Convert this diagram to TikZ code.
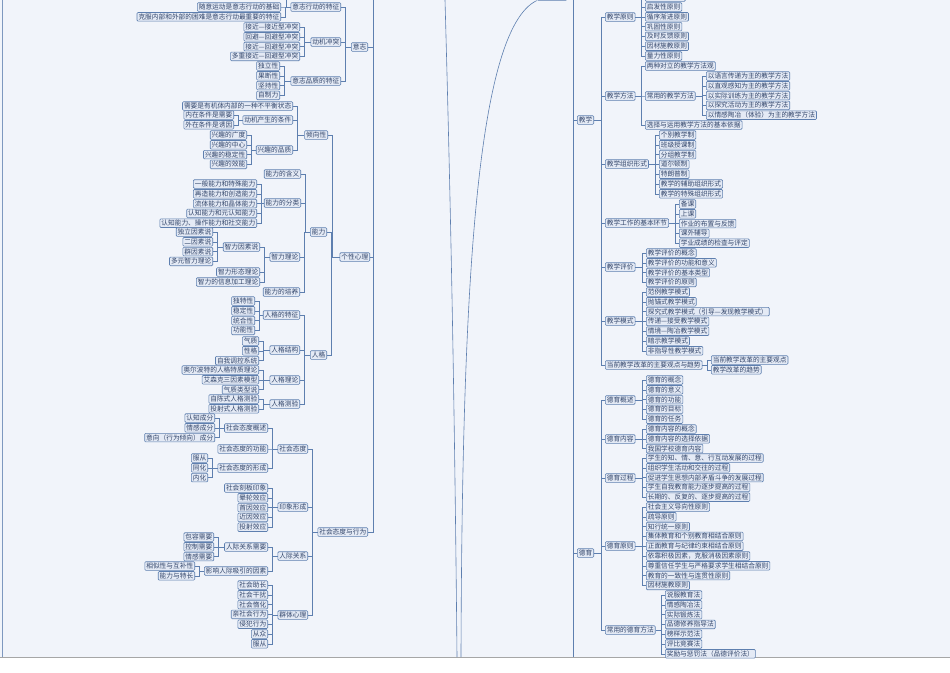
\documentclass[tikz,border=0pt]{standalone}
\usepackage{fontspec}
\setmainfont{Noto Sans CJK SC}
\definecolor{bgc}{HTML}{F1F4FA}
\definecolor{boxc}{HTML}{E4EAF5}
\definecolor{edgec}{HTML}{5E7FAF}
\definecolor{txtc}{HTML}{33466B}
\tikzset{
  leaf/.style={draw=edgec, fill=boxc, rounded corners=1pt, line width=0.6pt,
    inner xsep=1.5pt, inner ysep=0pt, minimum height=8.6pt,
    font=\fontsize{6.7}{7}\selectfont, text=txtc},
  link/.style={draw=edgec, line width=0.6pt},
}
% children to the left of a parent, right aligned at x=#2
\newcommand\lkids[4]{%
  \foreach \t [count=\i] in {#4}{
    \node[leaf, anchor=east] (#1-\i) at ({#2},{#3+(\i-1)*9.8}) {\t};
    \draw[link] (#1-\i.east) -- ++(4,0) |- (#1.west);
  }}
% children to the right of a parent, left aligned at x=#2
\newcommand\rkids[4]{%
  \foreach \t [count=\i] in {#4}{
    \node[leaf, anchor=west] (#1-\i) at ({#2},{#3+(\i-1)*9.8}) {\t};
    \draw[link] (#1-\i.west) -- ++(-4,0) |- (#1.east);
  }}
\begin{document}
\begin{tikzpicture}[x=1pt, y=-1pt]
  \useasboundingbox (0,0) rectangle (950,672);
  \clip (0,0) rectangle (950,672);
  \fill[bgc] (0,0) rectangle (950,672);
  \fill[white] (0,657) rectangle (950,672);
  \draw[gray!70, line width=0.8pt] (0,657) -- (950,657);
  \draw[edgec!80, line width=0.6pt] (2,0) -- (2,657);

  % central curves
  \node[leaf, minimum width=30pt] (top) at (552,-4) {};
  \coordinate (c1a) at (445,0);
  \coordinate (c1b) at (457,657);
  \coordinate (c2b) at (461,657);
  \draw[link] (c1a) .. controls (452,250) and (455,450) .. (c1b);
  \draw[link] (top.south west) .. controls (475,30) and (462,300) .. (c2b);

  % left half
  \coordinate (lroot) at (373,0);
  \node[leaf, anchor=east] (yz) at (368,47) {意志};
  \node[leaf, anchor=east] (gx) at (370,257) {个性心理};
  \node[leaf, anchor=east] (sh) at (368,532) {社会态度与行为};
  \foreach \n in {yz,gx,sh}
    \draw[link] (lroot) |- (\n.east);

  \node[leaf, anchor=east] (yzt) at (341,7) {意志行动的特征};
  \node[leaf, anchor=east] (dc) at (341,42) {动机冲突};
  \node[leaf, anchor=east] (yzp) at (341,81) {意志品质的特征};
  \foreach \n in {yzt,dc,yzp}
    \draw[link] (\n.east) -- ++(4,0) |- (yz.west);
  \node[leaf, anchor=east, minimum width=90pt] (yzt0) at (281,-6) {};
  \draw[link] (yzt0.east) -- ++(5,0) |- (yzt.west);
  \lkids{yzt}{281}{7}{随意运动是意志行动的基础,克服内部和外部的困难是意志行动最重要的特征}
  \lkids{dc}{300}{27}{接近—接近型冲突,回避—回避型冲突,接近—回避型冲突,多重接近—回避型冲突}
  \lkids{yzp}{280}{66}{独立性,果断性,坚持性,自制力}

  \node[leaf, anchor=east] (qx) at (328,135) {倾向性};
  \node[leaf, anchor=east] (nl) at (327,232) {能力};
  \node[leaf, anchor=east] (rg) at (327,355) {人格};
  \foreach \n in {qx,nl,rg}
    \draw[link] (\n.east) -- ++(4,0) |- (gx.west);

  \node[leaf, anchor=east] (xy) at (293,106) {需要是有机体内部的一种不平衡状态};
  \node[leaf, anchor=east] (dj) at (293,120) {动机产生的条件};
  \node[leaf, anchor=east] (xq) at (293,150) {兴趣的品质};
  \foreach \n in {xy,dj,xq}
    \draw[link] (\n.east) -- ++(4,0) |- (qx.west);
  \lkids{dj}{234}{115}{内在条件是需要,外在条件是诱因}
  \lkids{xq}{247}{135}{兴趣的广度,兴趣的中心,兴趣的稳定性,兴趣的效能}

  \node[leaf, anchor=east] (nh) at (301,174) {能力的含义};
  \node[leaf, anchor=east] (nf) at (301,203) {能力的分类};
  \node[leaf, anchor=east] (zl) at (300,257) {智力理论};
  \node[leaf, anchor=east] (np) at (300,292) {能力的培养};
  \foreach \n in {nh,nf,zl,np}
    \draw[link] (\n.east) -- ++(4,0) |- (nl.west);
  \lkids{nf}{257}{184}{一般能力和特殊能力,再造能力和创造能力,流体能力和晶体能力,认知能力和元认知能力,认知能力、操作能力和社交能力}
  \node[leaf, anchor=east] (zy) at (260,247) {智力因素说};
  \node[leaf, anchor=east] (zx) at (260,272) {智力形态理论};
  \node[leaf, anchor=east] (zj) at (260,282) {智力的信息加工理论};
  \foreach \n in {zy,zx,zj}
    \draw[link] (\n.east) -- ++(4,0) |- (zl.west);
  \lkids{zy}{213}{232}{独立因素说,二因素说,群因素说,多元智力理论}

  \node[leaf, anchor=east] (rt) at (300,315) {人格的特征};
  \node[leaf, anchor=east] (rj) at (300,350) {人格结构};
  \node[leaf, anchor=east] (rl) at (300,380) {人格理论};
  \node[leaf, anchor=east] (rc) at (300,404) {人格测验};
  \foreach \n in {rt,rj,rl,rc}
    \draw[link] (\n.east) -- ++(4,0) |- (rg.west);
  \lkids{rt}{255}{301}{独特性,稳定性,统合性,功能性}
  \lkids{rj}{259}{341}{气质,性格,自我调控系统}
  \lkids{rl}{259}{370}{奥尔波特的人格特质理论,艾森克三因素模型,气质类型说}
  \lkids{rc}{259}{399}{自陈式人格测验,投射式人格测验}

  \node[leaf, anchor=east] (st) at (308,449) {社会态度};
  \node[leaf, anchor=east] (yx) at (308,507) {印象形成};
  \node[leaf, anchor=east] (rx) at (308,556) {人际关系};
  \node[leaf, anchor=east] (qt) at (308,615) {群体心理};
  \foreach \n in {st,yx,rx,qt}
    \draw[link] (\n.east) -- ++(4,0) |- (sh.west);
  \node[leaf, anchor=east] (sg) at (268,428) {社会态度概述};
  \node[leaf, anchor=east] (sn) at (268,449) {社会态度的功能};
  \node[leaf, anchor=east] (sx) at (268,468) {社会态度的形成};
  \foreach \n in {sg,sn,sx}
    \draw[link] (\n.east) -- ++(4,0) |- (st.west);
  \lkids{sg}{215}{418}{认知成分,情感成分,意向（行为倾向）成分}
  \lkids{sx}{208}{458}{服从,同化,内化}
  \lkids{yx}{268}{488}{社会刻板印象,晕轮效应,首因效应,近因效应,投射效应}
  \node[leaf, anchor=east] (rxq) at (268,547) {人际关系需要};
  \node[leaf, anchor=east] (rxy) at (268,571) {影响人际吸引的因素};
  \foreach \n in {rxq,rxy}
    \draw[link] (\n.east) -- ++(4,0) |- (rx.west);
  \lkids{rxq}{214}{537}{包容需要,控制需要,情感需要}
  \lkids{rxy}{195}{566}{相似性与互补性,能力与特长}
  \lkids{qt}{268}{585}{社会助长,社会干扰,社会惰化,亲社会行为,侵犯行为,从众,服从}

  % right half
  \coordinate (rroot) at (573,0);
  \draw[link] (rroot) -- (573,657);
  \node[leaf, anchor=west] (jx) at (577,120) {教学};
  \node[leaf, anchor=west] (dy) at (577,553) {德育};
  \foreach \n in {jx,dy}
    \draw[link] (573,0 |- \n.west) -- (\n.west);

  \node[leaf, anchor=west] (jy) at (605,17) {教学原则};
  \node[leaf, anchor=west] (jf) at (605,96) {教学方法};
  \node[leaf, anchor=west] (jz) at (605,164) {教学组织形式};
  \node[leaf, anchor=west] (jh) at (605,223) {教学工作的基本环节};
  \node[leaf, anchor=west] (jp) at (605,267) {教学评价};
  \node[leaf, anchor=west] (jm) at (605,321) {教学模式};
  \node[leaf, anchor=west] (jg) at (605,365) {当前教学改革的主要观点与趋势};
  \foreach \n in {jy,jf,jz,jh,jp,jm,jg}
    \draw[link] (\n.west) -- ++(-4,0) |- (jx.east);
  \node[leaf, anchor=west, minimum width=40pt] (jy0) at (645,-3) {};
  \draw[link] (jy0.west) -- ++(-4,0) |- (jy.east);
  \rkids{jy}{645}{7}{启发性原则,循序渐进原则,巩固性原则,及时反馈原则,因材施教原则,量力性原则}
  \node[leaf, anchor=west] (jf1) at (645,66) {两种对立的教学方法观};
  \node[leaf, anchor=west] (jf2) at (645,96) {常用的教学方法};
  \node[leaf, anchor=west] (jf3) at (645,125) {选择与运用教学方法的基本依据};
  \foreach \n in {jf1,jf2,jf3}
    \draw[link] (\n.west) -- ++(-4,0) |- (jf.east);
  \rkids{jf2}{706}{76}{以语言传递为主的教学方法,以直观感知为主的教学方法,以实际训练为主的教学方法,以探究活动为主的教学方法,以情感陶冶（体验）为主的教学方法}
  \rkids{jz}{659}{135}{个别教学制,班级授课制,分组教学制,道尔顿制,特朗普制,教学的辅助组织形式,教学的特殊组织形式}
  \rkids{jh}{679}{204}{备课,上课,作业的布置与反馈,课外辅导,学业成绩的检查与评定}
  \rkids{jp}{646}{253}{教学评价的概念,教学评价的功能和意义,教学评价的基本类型,教学评价的原则}
  \rkids{jm}{646}{292}{范例教学模式,抛锚式教学模式,探究式教学模式（引导—发现教学模式）,传递—接受教学模式,情境—陶冶教学模式,暗示教学模式,非指导性教学模式}
  \rkids{jg}{711}{360}{当前教学改革的主要观点,教学改革的趋势}

  \node[leaf, anchor=west] (dg) at (605,400) {德育概述};
  \node[leaf, anchor=west] (dn) at (605,439) {德育内容};
  \node[leaf, anchor=west] (dq) at (605,478) {德育过程};
  \node[leaf, anchor=west] (dz) at (605,546) {德育原则};
  \node[leaf, anchor=west] (df) at (605,630) {常用的德育方法};
  \foreach \n in {dg,dn,dq,dz,df}
    \draw[link] (\n.west) -- ++(-4,0) |- (dy.east);
  \rkids{dg}{646}{380}{德育的概念,德育的意义,德育的功能,德育的目标,德育的任务}
  \rkids{dn}{646}{429}{德育内容的概念,德育内容的选择依据,我国学校德育内容}
  \rkids{dq}{646}{458}{学生的知、情、意、行互动发展的过程,组织学生活动和交往的过程,促进学生思想内部矛盾斗争的发展过程,学生自我教育能力逐步提高的过程,长期的、反复的、逐步提高的过程}
  \rkids{dz}{646}{507}{社会主义导向性原则,疏导原则,知行统一原则,集体教育和个别教育相结合原则,正面教育与纪律约束相结合原则,依靠积极因素，克服消极因素原则,尊重信任学生与严格要求学生相结合原则,教育的一致性与连贯性原则,因材施教原则}
  \rkids{df}{665}{595}{说服教育法,情感陶冶法,实际锻炼法,品德修养指导法,榜样示范法,评比竞赛法,奖励与惩罚法（品德评价法）}
\end{tikzpicture}
\end{document}
